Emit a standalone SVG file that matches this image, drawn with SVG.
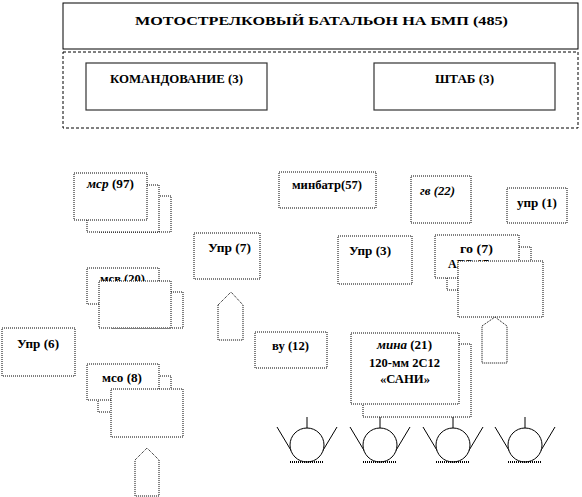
<svg xmlns="http://www.w3.org/2000/svg" width="582" height="497" viewBox="0 0 582 497">
<style>
.bg{fill:#fff}
.t{font-family:"Liberation Serif","Times New Roman",serif;font-weight:bold;font-size:12px;fill:#000}
.it{font-style:italic}
.b{fill:#fff;stroke:#000;stroke-width:1;stroke-dasharray:1 1}
.s{fill:#fff;stroke:#333;stroke-width:1.2}
.ln{fill:none;stroke:#000;stroke-width:1}
.wh{fill:#fff;stroke:#000;stroke-width:1}
.gr{stroke:#000;stroke-width:2;stroke-dasharray:1 1}
.pt{fill:#fff;stroke:#000;stroke-width:1;stroke-dasharray:1 1}
</style>
<defs>
<g id="wheel">
<line class="ln" x1="0" y1="417" x2="0" y2="429"/>
<line class="ln" x1="-30" y1="427" x2="-15" y2="452"/>
<line class="ln" x1="30" y1="427" x2="15" y2="452"/>
<circle class="wh" cx="0" cy="445" r="17"/>
<line class="gr" x1="-17" y1="462" x2="17" y2="462"/>
</g>
</defs>
<rect class="bg" width="582" height="497"/>

<g id="battalion">
<rect x="63" y="3" width="515" height="46" fill="#fff" stroke="#000" stroke-width="1"/>
<text class="t" x="135" y="25" font-size="16" textLength="373" lengthAdjust="spacingAndGlyphs">МОТОСТРЕЛКОВЫЙ  БАТАЛЬОН НА БМП (485)</text>
</g>
<g id="hq-container">
<rect x="63" y="52" width="515" height="76" fill="none" stroke="#000" stroke-width="1" stroke-dasharray="3 2"/>
</g>
<g id="command">
<rect class="s" x="86" y="63" width="181" height="47"/>
<text class="t" x="110" y="83" font-size="13" textLength="133" lengthAdjust="spacingAndGlyphs">КОМАНДОВАНИЕ  (3)</text>
</g>
<g id="staff">
<rect class="s" x="374" y="63" width="181" height="47"/>
<text class="t" x="435" y="83" font-size="13" textLength="59" lengthAdjust="spacingAndGlyphs">ШТАБ (3)</text>
</g>

<g id="msr">
<rect class="b" x="98" y="196" width="73" height="36"/>
<rect class="b" x="87" y="185" width="72" height="47"/>
<rect class="b" x="74" y="173" width="73" height="47"/>
<text class="t" x="87" y="188" textLength="47" lengthAdjust="spacingAndGlyphs"><tspan class="it">мср</tspan> (97)</text>
</g>

<g id="upr7">
<rect class="b" x="194" y="233" width="66" height="46"/>
<text class="t" x="208" y="252" textLength="43" lengthAdjust="spacingAndGlyphs">Упр (7)</text>
</g>

<g id="msv">
<rect class="b" x="87" y="268" width="72" height="36"/>
<text class="t" x="100" y="283" textLength="45" lengthAdjust="spacingAndGlyphs">мсв (20)</text>
<rect class="b" x="111" y="292" width="72" height="36"/>
<rect class="b" x="99" y="281" width="72" height="47"/>
</g>

<g id="arrow1">
<polygon class="pt" points="218,305 231,292 243,305 243,340 218,340"/>
</g>

<g id="minbatr">
<rect class="b" x="279" y="172" width="97" height="36"/>
<text class="t" x="292" y="189" textLength="70" lengthAdjust="spacingAndGlyphs">минбатр(57)</text>
</g>

<g id="gv">
<rect class="b" x="411" y="176" width="60" height="47"/>
<text class="t it" x="420" y="195" textLength="35" lengthAdjust="spacingAndGlyphs">гв (22)</text>
</g>

<g id="upr1">
<rect class="b" x="507" y="188" width="60" height="35"/>
<text class="t" x="517" y="207" textLength="40" lengthAdjust="spacingAndGlyphs">упр (1)</text>
</g>

<g id="upr3">
<rect class="b" x="338" y="236" width="74" height="48"/>
<text class="t" x="349" y="255" textLength="42" lengthAdjust="spacingAndGlyphs">Упр (3)</text>
</g>

<g id="go">
<rect class="b" x="447" y="247" width="84" height="43"/>
<rect class="b" x="435" y="235" width="84" height="43"/>
<text class="t" x="460" y="253" textLength="33" lengthAdjust="spacingAndGlyphs">го (7)</text>
<text class="t" x="448" y="268">АГС-17</text>
<rect class="b" x="458" y="261" width="85" height="56"/>
</g>

<g id="arrow2">
<polygon class="pt" points="482,326 495,317 507,326 507,363 482,363"/>
</g>

<g id="upr6">
<rect class="b" x="2" y="328" width="73" height="48"/>
<text class="t" x="17" y="348" textLength="42" lengthAdjust="spacingAndGlyphs">Упр (6)</text>
</g>

<g id="mso">
<rect class="b" x="98" y="376" width="73" height="36"/>
<rect class="b" x="87" y="364" width="72" height="36"/>
<text class="t" x="102" y="382" textLength="40" lengthAdjust="spacingAndGlyphs">мсо (8)</text>
<rect class="b" x="111" y="389" width="72" height="48"/>
</g>

<g id="arrow3">
<polygon class="pt" points="135,460 147,448 159,460 159,496 135,496"/>
</g>

<g id="vu">
<rect class="b" x="255" y="332" width="72" height="36"/>
<text class="t" x="272" y="350" textLength="37" lengthAdjust="spacingAndGlyphs">ву (12)</text>
</g>

<g id="mina">
<rect class="b" x="363" y="344" width="108" height="73"/>
<rect class="b" x="351" y="333" width="108" height="71"/>
<text class="t" x="377" y="349" textLength="55" lengthAdjust="spacingAndGlyphs"><tspan class="it">мина</tspan> (21)</text>
<text class="t" x="369" y="367" textLength="71" lengthAdjust="spacingAndGlyphs">120-мм 2С12</text>
<text class="t" x="380" y="383" textLength="50" lengthAdjust="spacingAndGlyphs">«САНИ»</text>
</g>

<g id="connectors">
<use href="#wheel" x="307"/>
<use href="#wheel" x="380"/>
<use href="#wheel" x="453"/>
<use href="#wheel" x="525"/>
</g>
</svg>
